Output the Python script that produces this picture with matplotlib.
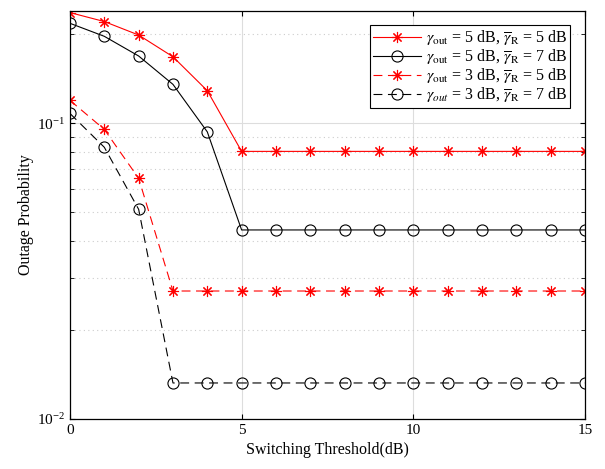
import numpy as np
import matplotlib.pyplot as plt
from matplotlib.ticker import LogLocator, NullFormatter

plt.rcParams['font.family'] = ['Liberation Serif', 'DejaVu Serif']
plt.rcParams['mathtext.fontset'] = 'stix'

# switching threshold (dB)
thr = np.arange(0, 16)

# outage probability curves
p_5_5 = [0.237, 0.221, 0.199, 0.168, 0.129] + [0.0804] * 11
p_5_7 = [0.218, 0.197, 0.169, 0.1355, 0.0936] + [0.0436] * 11
p_3_5 = [0.1196, 0.0954, 0.0652] + [0.0271] * 13
p_3_7 = [0.108, 0.083, 0.0512] + [0.01324] * 13

labels = [r'$\gamma_{\rm out}$ = 5 dB, $\overline{\gamma}_{\rm R}$ = 5 dB',
          r'$\gamma_{\rm out}$ = 5 dB, $\overline{\gamma}_{\rm R}$ = 7 dB',
          r'$\gamma_{\rm out}$ = 3 dB, $\overline{\gamma}_{\rm R}$ = 5 dB',
          r'$\gamma_{out}$ = 3 dB, $\overline{\gamma}_{\rm R}$ = 7 dB']

fig = plt.figure(figsize=(6.05, 4.69), dpi=100)
ax = fig.add_axes((0.1157, 0.1066, 0.851, 0.87))

star = (8, 2, 0)
dash = (0, (8, 5))
ax.semilogy(thr, p_5_5, color='red', lw=0.8, marker=star, ms=8, mew=0.8, label=labels[0])
ax.semilogy(thr, p_5_7, color='black', lw=0.8, marker='o', ms=8, mfc='none', mew=0.8, label=labels[1])
ax.semilogy(thr, p_3_5, color='red', lw=0.8, ls=dash, marker=star, ms=8, mew=0.8, label=labels[2])
ax.semilogy(thr, p_3_7, color='black', lw=0.8, ls=dash, marker='o', ms=8, mfc='none', mew=0.8, label=labels[3])

ax.set_xlim(0, 15)
ax.set_ylim(0.01, 0.24)
ax.set_xticks([0, 5, 10, 15])
ax.yaxis.set_major_locator(LogLocator(base=10, numticks=10))
ax.yaxis.set_minor_locator(LogLocator(base=10, subs=np.arange(2, 10), numticks=10))
ax.yaxis.set_minor_formatter(NullFormatter())

ax.grid(True, which='major', color='#dddddd', lw=0.8, ls='-')
ax.grid(True, which='minor', axis='y', color='#cccccc', lw=0.8, ls=(0, (1, 3)))
ax.tick_params(which='both', direction='in', top=True, right=True, labelsize=11)
ax.tick_params(which='minor', length=3)
for s in ax.spines.values():
    s.set_linewidth(0.9)

ax.set_xlabel('Switching Threshold(dB)', fontsize=11.5, labelpad=4)
ax.set_ylabel('Outage Probability', fontsize=11.5, labelpad=2)

leg = ax.legend(loc='upper right', fontsize=11.5, fancybox=False, edgecolor='black',
                framealpha=1, handlelength=3.0, borderpad=0.2, labelspacing=0.0,
                handletextpad=0.3, borderaxespad=0.9)
leg.get_frame().set_linewidth(0.8)

fig.savefig('out.png', dpi=100)
